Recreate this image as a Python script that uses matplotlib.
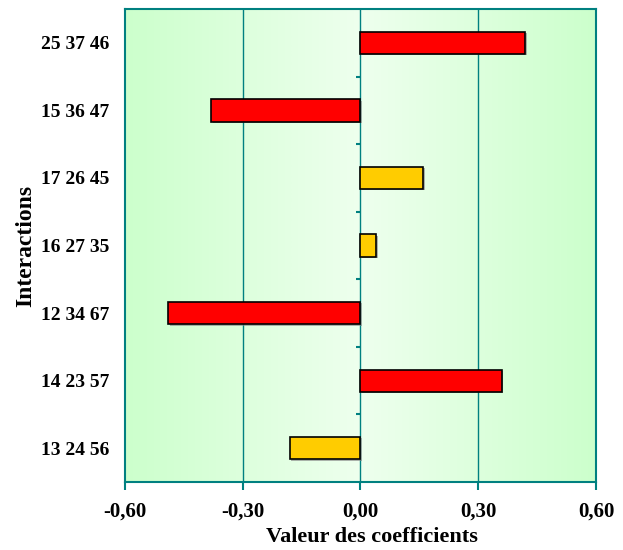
import numpy as np
import matplotlib
matplotlib.use("Agg")
import matplotlib.pyplot as plt
from matplotlib.colors import LinearSegmentedColormap

# donnees (de bas en haut)
interactions = ["13 24 56", "14 23 57", "12 34 67", "16 27 35",
                "17 26 45", "15 36 47", "25 37 46"]
coefficients = [-0.18, 0.36, -0.49, 0.04, 0.16, -0.38, 0.42]
significatif = [False, True, True, False, False, True, True]
x_ticks = [-0.6, -0.3, 0.0, 0.3, 0.6]

teal = "#008080"
plt.rcParams['font.family'] = ['Liberation Serif', 'DejaVu Serif']
plt.rcParams['font.weight'] = 'bold'

fig = plt.figure(figsize=(6.23, 5.5), dpi=100)
ax = fig.add_axes([0.2006, 0.1236, 0.756, 0.86])

y = np.arange(len(interactions))
ax.set_xlim(-0.6, 0.6)
ax.set_ylim(-0.5, len(interactions) - 0.5)

# fond en degrade horizontal (plus clair au centre)
cmap = LinearSegmentedColormap.from_list("fond", ["#ccffcc", "#eeffee", "#ccffcc"])
grad = np.linspace(0, 1, 256).reshape(1, -1)
ax.imshow(grad, cmap=cmap, aspect="auto", extent=[-0.6, 0.6, -0.5, len(interactions) - 0.5],
          zorder=0, interpolation="bicubic")

for xv in [-0.3, 0.0, 0.3]:
    ax.axvline(xv, color=teal, lw=1, zorder=1)

couleurs = ["#ff0000" if s else "#ffcc00" for s in significatif]
h = 0.33
# ombre legere
ax.barh(y - 0.02, coefficients, height=h, left=0.004, color="#808080", alpha=0.6,
        edgecolor="none", zorder=2)
ax.barh(y, coefficients, height=h, color=couleurs, edgecolor="black", lw=1.2, zorder=3)

# petites graduations sur l'axe zero entre les categories
for yb in np.arange(0.5, len(interactions) - 0.5, 1.0):
    ax.plot([-0.012, 0.0], [yb, yb], color=teal, lw=1.5, zorder=4, solid_capstyle="butt")

for s in ax.spines.values():
    s.set_color(teal)
    s.set_linewidth(1.5)

ax.set_xticks(x_ticks)
ax.set_xticklabels([f"{v:.2f}".replace(".", ",") for v in x_ticks])
ax.set_yticks(y)
ax.set_yticklabels(interactions)
ax.tick_params(axis="x", colors=teal, length=6, width=1.5, labelcolor="black",
               labelsize=15, pad=8)
ax.tick_params(axis="y", length=0, labelsize=14, pad=11)
for lab in ax.get_xticklabels() + ax.get_yticklabels():
    lab.set_fontweight("bold")

ax.set_xlabel("Valeur des coefficients", fontsize=16, fontweight="bold")
ax.set_ylabel("Interactions", fontsize=17, fontweight="bold")
ax.xaxis.set_label_coords(0.524, -0.096)
ax.yaxis.set_label_coords(-0.188, 0.5)

fig.savefig("out.png", dpi=100)
